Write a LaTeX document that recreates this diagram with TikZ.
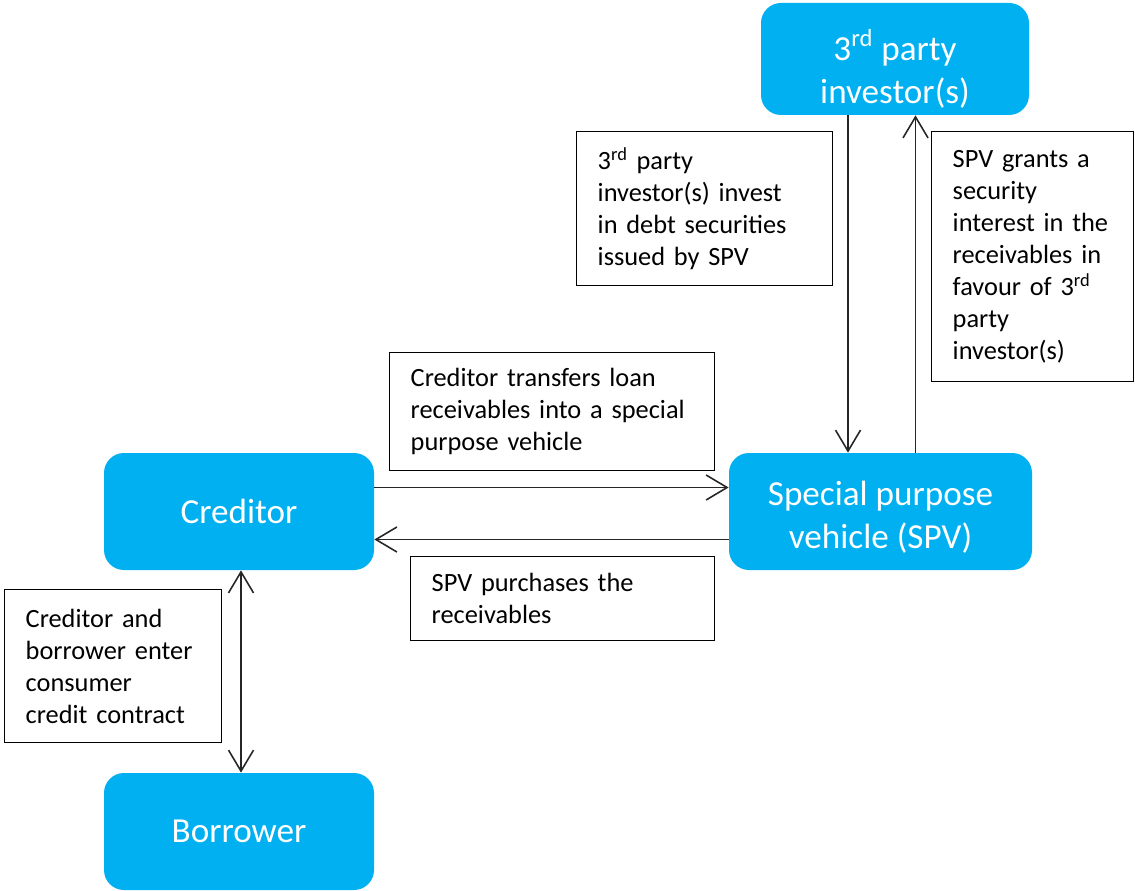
\documentclass[tikz,border=0pt]{standalone}
\usepackage{fontspec}
\setmainfont{Carlito}
\usetikzlibrary{shapes,arrows.meta}

\definecolor{partyblue}{HTML}{00B0F0}

\tikzset{
  party/.style={fill=partyblue, rounded corners=0.4cm, text=white, align=center,
    font=\fontsize{20}{24.5}\selectfont, inner sep=0pt},
  note/.style={draw=black, line width=0.8pt, anchor=north west, align=left,
    font=\fontsize{15}{18.2}\selectfont, inner xsep=0.42cm, inner ysep=0pt},
  flow/.style={draw=black!85, line width=0.9pt, -{Straight Barb[length=4.2mm,width=5mm]}},
  twoway/.style={draw=black!85, line width=0.9pt, {Straight Barb[length=4.2mm,width=5mm]}-{Straight Barb[length=4.2mm,width=5mm]}}
}

\begin{document}
\begin{tikzpicture}
		\useasboundingbox (0,0) rectangle (22.7,-17.82);

		% parties
		\node[party, minimum width=5.36cm, minimum height=2.24cm] (investor) at (17.9,-1.18) {\rule{0pt}{1cm}3\smash{\textsuperscript{rd}} party\\investor(s)};
		\node[party, minimum width=6.06cm, minimum height=2.34cm] (spv) at (17.61,-10.23) {\rule{0pt}{0.7cm}Special purpose\\vehicle (SPV)};
		\node[party, minimum width=5.4cm, minimum height=2.34cm] (creditor) at (4.78,-10.23) {Creditor};
		\node[party, minimum width=5.4cm, minimum height=2.34cm] (borrower) at (4.78,-16.63) {Borrower};

		% notes
		\node[note, text width=4.28cm, minimum height=3.08cm] (investnote) at (11.52,-2.62)
		  {3\textsuperscript{rd} party\\investor(s) invest\\in debt securities\\issued by SPV};
		\node[note, text width=3.2cm, minimum height=5.0cm] (securitynote) at (18.62,-2.62)
		  {SPV grants a\\security\\interest in the\\receivables in\\favour of 3\textsuperscript{rd}\\party\\investor(s)};
		\node[note, text width=5.66cm, minimum height=2.36cm] (transfernote) at (7.78,-7.04)
		  {Creditor transfers loan\\receivables into a special\\purpose vehicle};
		\node[note, text width=5.24cm, minimum height=1.68cm] (purchasenote) at (8.2,-11.12)
		  {SPV purchases the\\receivables};
		\node[note, text width=3.5cm, minimum height=3.06cm] (contractnote) at (0.08,-11.78)
		  {Creditor and\\borrower enter\\consumer\\credit contract};

		% flows
		\draw[flow] ([xshift=-0.94cm]investor.south) -- ([xshift=-0.94cm]investor.south |- spv.north);
		\draw[flow] ([xshift=0.7cm]spv.north) -- ([xshift=0.7cm]spv.north |- investor.south);
		\draw[flow] ([yshift=0.48cm]creditor.east) -- ([yshift=0.48cm]spv.west);
		\draw[flow] ([yshift=-0.56cm]spv.west) -- ([yshift=-0.56cm]creditor.east);
		\draw[twoway] ([xshift=0.04cm]creditor.south) -- ([xshift=0.04cm]borrower.north);
\end{tikzpicture}
\end{document}
